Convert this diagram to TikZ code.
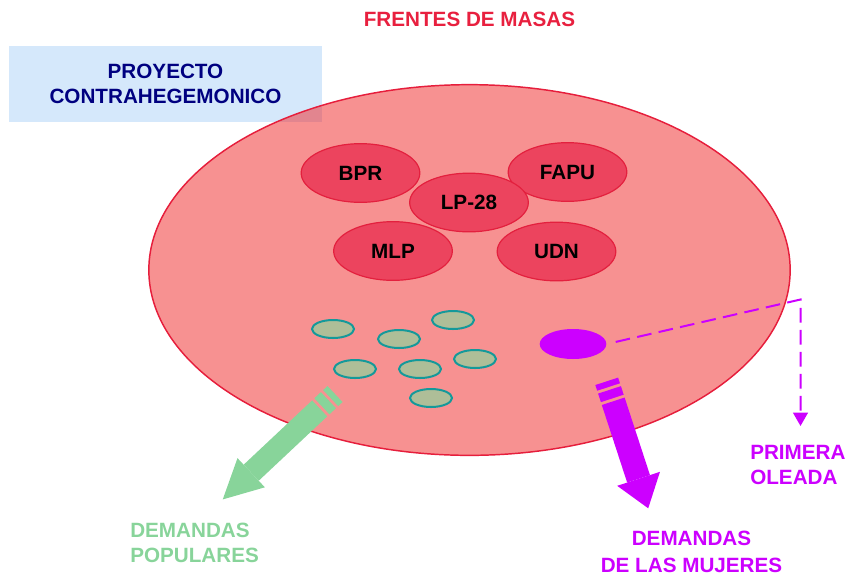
\documentclass[tikz,border=0pt]{standalone}
\usepackage{fontspec}
\setmainfont{Liberation Sans}
\usepackage{xcolor}
\usetikzlibrary{arrows.meta}
\usetikzlibrary{shapes.geometric}

\definecolor{masaborde}{HTML}{E61E3C}
\definecolor{masafondo}{HTML}{F02424}
\definecolor{frente}{HTML}{EC445E}
\definecolor{frenteborde}{HTML}{E3203E}
\definecolor{titulo}{HTML}{E8203F}
\definecolor{marino}{HTML}{000080}
\definecolor{celeste}{HTML}{D5E8FB}
\definecolor{verde}{HTML}{88D49A}
\definecolor{oliva}{HTML}{AEBE98}
\definecolor{turquesa}{HTML}{14999A}
\definecolor{morado}{HTML}{CC00FF}

% flecha rayada: largo, media anchura, media anchura de punta, largo de punta
\tikzset{
  pics/flecha/.style n args={4}{code={
    \fill (0,-#2) rectangle (6,#2);
    \fill (9,-#2) rectangle (18,#2);
    \fill (21,-#2) rectangle ({#1-#4},#2);
    \fill ({#1-#4},-#3) -- (#1,0) -- ({#1-#4},#3) -- cycle;
  }}
}

\begin{document}
\begin{tikzpicture}[
    x=0.75pt, y=-0.75pt,
    every node/.style={font=\fontsize{15.5}{18.75}\selectfont\bfseries, inner sep=0pt},
    masa/.style={ellipse, draw=masaborde, line width=1.1pt, fill=masafondo, fill opacity=0.5,
                 minimum width=481pt, minimum height=278pt},
    fren/.style={ellipse, draw=frenteborde, line width=0.9pt, fill=frente,
                 minimum width=89pt, minimum height=44pt},
    pop/.style={ellipse, draw=turquesa, line width=1.5pt, fill=oliva,
                minimum width=31.5pt, minimum height=13.5pt},
    cuadro/.style={rectangle, fill=celeste, text=marino, align=center,
                   minimum width=235pt, minimum height=57pt},
    rotulo/.style={align=left}
]
\useasboundingbox (0,0) rectangle (849,576);

% Nodes :
\node[cuadro] (proyecto) at (165.5,84) {PROYECTO\\CONTRAHEGEMONICO};
\node[masa] (masas) at (469.5,270) {};
\node[text=titulo] (titulo) at (469.5,19) {FRENTES DE MASAS};

\node[fren] (bpr)  at (360.5,173) {BPR};
\node[fren] (fapu) at (567.5,172) {FAPU};
\node[fren] (mlp)  at (393,251) {MLP};
\node[fren] (udn)  at (556.5,251.5) {UDN};
\node[fren] (lp)   at (469,202.5) {LP-28};

\node[pop] (p1) at (333,329) {};
\node[pop] (p2) at (399,339) {};
\node[pop] (p3) at (453,320) {};
\node[pop] (p4) at (355,369) {};
\node[pop] (p5) at (420,369) {};
\node[pop] (p6) at (475,359) {};
\node[pop] (p7) at (431,398) {};

\node[ellipse, fill=morado, minimum width=50pt, minimum height=22.5pt] (mujer) at (573,344) {};

\node[rotulo, text=verde, anchor=west] (populares) at (130,542.5) {DEMANDAS\\POPULARES};
\node[align=center, text=morado] (mujeres) at (691.5,551.5) {DEMANDAS\\[1.5pt]DE LAS MUJERES};
\node[rotulo, text=morado, anchor=west] (oleada) at (750,464.5) {PRIMERA\\OLEADA};

% Edges :
\coordinate (esquina) at (800.5,299.5);
\coordinate (punta) at (800.5,426);
\draw[morado, line width=1.5pt, dash pattern=on 11pt off 5.5pt, shorten <=7pt,
      -{Triangle[length=10pt, width=11pt]}] (mujer.east) -- (esquina) -- (punta);

\coordinate (colaverde) at (335,394);
\coordinate (colamorada) at (606.7,381.3);
\pic[color=verde, rotate=223.2] at (colaverde) {flecha={154}{11}{20}{39}};
\pic[color=morado, rotate=288.1] at (colamorada) {flecha={133.6}{12}{22.5}{31}};

\end{tikzpicture}
\end{document}
